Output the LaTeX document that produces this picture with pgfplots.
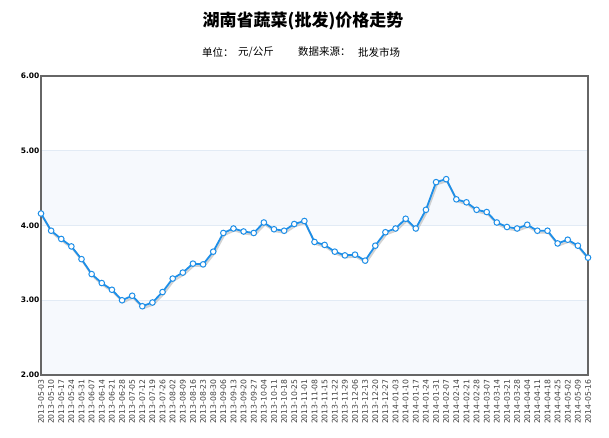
\documentclass[border=0pt]{standalone}
\usepackage{pgfplots}
\usepackage{pgfplotstable}
\pgfplotsset{compat=1.18}
\usepackage{fontspec}
\setmainfont{DejaVu Sans}
\newfontfamily\cjk{Noto Sans CJK SC}
\definecolor{priceline}{HTML}{1E8FE8}
\definecolor{band}{HTML}{F6F9FD}
\definecolor{gridc}{HTML}{E2EBF5}
\definecolor{framec}{HTML}{666666}

% weekly wholesale price, yuan/kg
\pgfplotstableread{
x y
0 4.16
1 3.93
2 3.82
3 3.72
4 3.55
5 3.35
6 3.23
7 3.14
8 3.00
9 3.06
10 2.92
11 2.97
12 3.11
13 3.29
14 3.37
15 3.49
16 3.48
17 3.65
18 3.90
19 3.96
20 3.92
21 3.90
22 4.04
23 3.95
24 3.93
25 4.02
26 4.06
27 3.78
28 3.74
29 3.65
30 3.60
31 3.61
32 3.53
33 3.73
34 3.91
35 3.96
36 4.09
37 3.96
38 4.21
39 4.58
40 4.62
41 4.35
42 4.31
43 4.21
44 4.18
45 4.04
46 3.98
47 3.96
48 4.01
49 3.93
50 3.93
51 3.76
52 3.81
53 3.73
54 3.57
}\prices

\begin{document}
\begin{tikzpicture}
\path (0pt,0pt) rectangle (609pt,438pt);
\node[font=\cjk\bfseries\fontsize{17}{17}\selectfont] at (303pt,417.5pt) {湖南省蔬菜(批发)价格走势};
\begin{scope}[every node/.style={font=\cjk\fontsize{10.5}{10.5}\selectfont, anchor=west, inner sep=0pt}]
\node at (202pt,386pt) {单位：};
\node at (238pt,386pt) {元/公斤};
\node at (298pt,386pt) {数据来源：};
\node at (358pt,386pt) {批发市场};
\end{scope}
\begin{axis}[
  at={(41pt,63pt)}, anchor=south west,
  scale only axis, width=547pt, height=299pt,
  xmin=0, xmax=54, ymin=2, ymax=6,
  axis line style={draw=framec, line width=1.6pt},
  major tick length=0pt,
  ytick={2,3,4,5,6},
  yticklabel style={font=\fontsize{7.5}{7.5}\selectfont\bfseries, inner sep=1.5pt,
    /pgf/number format/.cd, fixed, fixed zerofill, precision=2, assume math mode=true},
  xtick={0,...,54},
  xticklabels={2013-05-03,2013-05-10,2013-05-17,2013-05-24,2013-05-31,2013-06-07,2013-06-14,2013-06-21,2013-06-28,2013-07-05,2013-07-12,2013-07-19,2013-07-26,2013-08-02,2013-08-09,2013-08-16,2013-08-23,2013-08-30,2013-09-06,2013-09-13,2013-09-20,2013-09-27,2013-10-04,2013-10-11,2013-10-18,2013-10-25,2013-11-01,2013-11-08,2013-11-15,2013-11-22,2013-11-29,2013-12-06,2013-12-13,2013-12-20,2013-12-27,2014-01-03,2014-01-10,2014-01-17,2014-01-24,2014-01-31,2014-02-07,2014-02-14,2014-02-21,2014-02-28,2014-03-07,2014-03-14,2014-03-21,2014-03-28,2014-04-04,2014-04-11,2014-04-18,2014-04-25,2014-05-02,2014-05-09,2014-05-16},
  xticklabel style={rotate=90, anchor=east, font=\fontsize{7.7}{7.7}\selectfont,
    text=black!75, inner sep=1pt},
  xticklabel shift=3pt,
  clip=false,
  axis on top,
]
% alternating light bands and grid lines
\fill[band] (axis cs:0,2) rectangle (axis cs:54,3);
\fill[band] (axis cs:0,4) rectangle (axis cs:54,5);
\draw[gridc, line width=0.8pt] (axis cs:0,3) -- (axis cs:54,3);
\draw[gridc, line width=0.8pt] (axis cs:0,4) -- (axis cs:54,4);
\draw[gridc, line width=0.8pt] (axis cs:0,5) -- (axis cs:54,5);
\addplot[black!25, line width=2pt, no markers, xshift=1pt, yshift=-2pt, opacity=0.7] table[x=x,y=y] {\prices};
\addplot[priceline, line width=1.8pt, mark=*, mark size=2.8pt,
  mark options={fill=white, draw=priceline, line width=1pt}] table[x=x,y=y] {\prices};
\end{axis}
\end{tikzpicture}
\end{document}
